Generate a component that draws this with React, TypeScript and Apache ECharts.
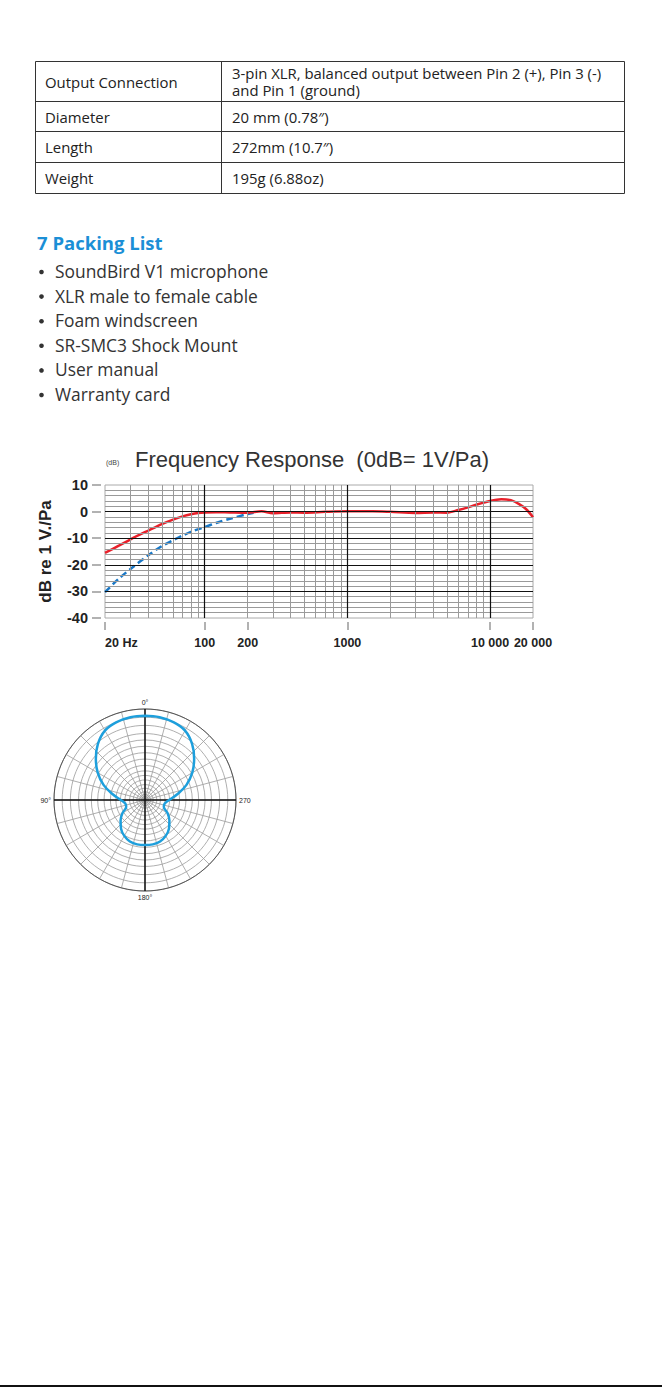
import React, { useEffect, useRef } from "react";
import * as echarts from "echarts";

// ---------- data ----------
const TABLE_LABELS = ["Output Connection", "Diameter", "Length", "Weight"];
const TABLE_VALUES = [
  ["3-pin XLR, balanced output between Pin 2 (+), Pin 3 (-)", "and Pin 1 (ground)"],
  ["20 mm (0.78″)"],
  ["272mm (10.7″)"],
  ["195g (6.88oz)"],
];

const PACKING_TITLE = "7 Packing List";
const PACKING_ITEMS = [
  "SoundBird V1 microphone",
  "XLR male to female cable",
  "Foam windscreen",
  "SR-SMC3 Shock Mount",
  "User manual",
  "Warranty card",
];

const FR_TITLE = "Frequency Response  (0dB= 1V/Pa)";
const FR_UNIT = "(dB)";
const FR_YNAME = "dB re 1 V./Pa";

const RED_FREQ = [20, 25, 30, 40, 50, 60, 70, 80, 90, 100, 120, 150, 200, 250, 300, 400, 500, 700, 1000, 1500, 2000, 3000, 4000, 5000, 6000, 7000, 8000, 10000, 12000, 14000, 16000, 18000, 20000];
const RED_DB = [-15.5, -12.8, -10.5, -7.2, -4.7, -3.0, -1.8, -1.0, -0.5, -0.3, -0.2, -0.3, -0.4, 0.1, -0.6, -0.3, -0.4, -0.1, 0.1, 0.1, -0.1, -0.5, -0.3, -0.4, 0.6, 1.6, 2.6, 4.0, 4.6, 4.3, 2.8, 0.8, -2.1];

const BLUE_FREQ = [20, 25, 30, 40, 50, 60, 70, 80, 100, 120, 150, 200, 220];
const BLUE_DB = [-30.3, -25.2, -21.7, -16.5, -13.0, -10.8, -9.0, -7.6, -5.8, -4.3, -2.7, -0.9, -0.4];

const X_TICKS = [20, 100, 200, 1000, 10000, 20000];
const X_TICK_LABELS = ["20 Hz", "100", "200", "1000", "10 000", "20 000"];
const V_MINOR = [30, 40, 50, 60, 70, 80, 90, 200, 300, 400, 500, 600, 700, 800, 900, 2000, 3000, 4000, 5000, 6000, 7000, 8000, 9000];
const V_MAJOR = [100, 1000, 10000];
const H_MINOR = [8, 6, 4, 2, -2, -4, -6, -8, -12, -14, -16, -18, -22, -24, -26, -28, -32, -34, -36, -38];
const H_MAJOR = [0, -10, -20, -30];

const POLAR_ANGLES = [0, 10, 20, 30, 40, 50, 60, 70, 80, 90, 100, 110, 120, 130, 140, 150, 160, 170, 180, 190, 200, 210, 220, 230, 240, 250, 260, 270, 280, 290, 300, 310, 320, 330, 340, 350, 360];
const POLAR_LEVEL = [92.5, 92.3, 91, 88, 80.5, 70.5, 60, 48.5, 36, 26.5, 22, 22, 28.5, 35, 41, 45.5, 48.5, 49.5, 49.5, 49.5, 48.5, 45.5, 41, 35, 28.5, 22, 22, 26.5, 36, 48.5, 60, 70.5, 80.5, 88, 91, 92.3, 92.5];
const RING_LEVELS = [2, 4, 6, 9, 13, 17, 22, 27, 32, 38, 45, 52, 59, 66, 73, 82, 91, 100];
const ANGLE_LABEL_VALUES = [0, 90, 180, 270];
const ANGLE_LABEL_TEXTS = ["0°", "90°", "180°", "270"];

// ---------- layout ----------
const TABLE_LEFT = 35, TABLE_RIGHT = 624, TABLE_COL = 221;
const TABLE_EDGES = [61, 101, 131, 162, 193];
const BODY_FONT = "Open Sans";
const TABLE_FONT_SIZE = 14.9;
const TABLE_LINE_GAP = 17.5;

function buildGraphics() {
  const g: any[] = [];
  // table
  g.push({ type: "rect", shape: { x: TABLE_LEFT + 0.5, y: TABLE_EDGES[0] + 0.5, width: TABLE_RIGHT - TABLE_LEFT, height: TABLE_EDGES[4] - TABLE_EDGES[0] }, style: { fill: "none", stroke: "#333", lineWidth: 1 } });
  g.push({ type: "line", shape: { x1: TABLE_COL + 0.5, y1: TABLE_EDGES[0], x2: TABLE_COL + 0.5, y2: TABLE_EDGES[4] }, style: { stroke: "#333", lineWidth: 1 } });
  for (let i = 1; i < TABLE_EDGES.length - 1; i++) {
    g.push({ type: "line", shape: { x1: TABLE_LEFT, y1: TABLE_EDGES[i] + 0.5, x2: TABLE_RIGHT, y2: TABLE_EDGES[i] + 0.5 }, style: { stroke: "#333", lineWidth: 1 } });
  }
  TABLE_LABELS.forEach((lab, i) => {
    const cy = (TABLE_EDGES[i] + TABLE_EDGES[i + 1]) / 2 + 0.5;
    g.push({ type: "text", x: 45, y: cy, style: { text: lab, fontFamily: BODY_FONT, fontSize: TABLE_FONT_SIZE, fill: "#222", verticalAlign: "middle", align: "left" } });
    const lines = TABLE_VALUES[i];
    lines.forEach((ln, j) => {
      const y = cy + (j - (lines.length - 1) / 2) * TABLE_LINE_GAP;
      g.push({ type: "text", x: 232, y, style: { text: ln, fontFamily: BODY_FONT, fontSize: TABLE_FONT_SIZE, fill: "#222", verticalAlign: "middle", align: "left" } });
    });
  });
  // packing list
  g.push({ type: "text", x: 37, y: 242, style: { text: PACKING_TITLE, fontFamily: BODY_FONT, fontWeight: "bold", fontSize: 18.5, fill: "#1b8fd6", verticalAlign: "middle" } });
  PACKING_ITEMS.forEach((t, i) => {
    const cy = 271 + i * 24.6;
    g.push({ type: "circle", shape: { cx: 41.5, cy: cy + 1, r: 2.3 }, style: { fill: "#333" } });
    g.push({ type: "text", x: 55, y: cy, style: { text: t, fontFamily: BODY_FONT, fontSize: 17.4, fill: "#333", verticalAlign: "middle" } });
  });
  // frequency chart titles
  g.push({ type: "text", x: 106, y: 462, style: { text: FR_UNIT, fontFamily: "Liberation Sans", fontSize: 7, fill: "#444", verticalAlign: "middle" } });
  g.push({ type: "text", x: 135, y: 459, style: { text: FR_TITLE, fontFamily: "Liberation Sans", fontSize: 22, fill: "#333", verticalAlign: "middle" } });
  // bottom rule
  g.push({ type: "rect", shape: { x: 0, y: 1385, width: 662, height: 2 }, style: { fill: "#111" } });
  return g;
}

function nearestTickLabel(v: number) {
  let best = 0, bd = Infinity;
  X_TICKS.forEach((t, i) => {
    const d = Math.abs(Math.log10(t) - v);
    if (d < bd) { bd = d; best = i; }
  });
  return X_TICK_LABELS[best];
}

function buildOption(): any {
  const gridLineData = [
    ...V_MINOR.map((v) => ({ xAxis: v, lineStyle: { color: "#9a9a9a", width: 1, type: "solid" } })),
    ...H_MINOR.map((v) => ({ yAxis: v, lineStyle: { color: "#9a9a9a", width: 1, type: "solid" } })),
    ...V_MAJOR.map((v) => ({ xAxis: v, lineStyle: { color: "#111", width: 1.2, type: "solid" } })),
    ...H_MAJOR.map((v) => ({ yAxis: v, lineStyle: { color: "#111", width: 1.2, type: "solid" } })),
  ];
  return {
    animation: false,
    backgroundColor: "#fff",
    graphic: buildGraphics(),
    grid: [{ left: 105, top: 485, width: 428, height: 133, show: true, borderColor: "#aaa", borderWidth: 1, backgroundColor: "transparent" }],
    xAxis: [
      { type: "log", logBase: 10, min: 20, max: 20000, gridIndex: 0, position: "top", show: false },
      {
        type: "value", gridIndex: 0, position: "bottom", min: Math.log10(20), max: Math.log10(20000), offset: 4,
        axisLine: { show: false }, splitLine: { show: false },
        axisTick: { show: true, customValues: X_TICKS.map((t) => Math.log10(t)), length: 8, lineStyle: { color: "#999", width: 1.5 } },
        axisLabel: { customValues: X_TICKS.map((t) => Math.log10(t)), alignMinLabel: "left", formatter: (v: number) => nearestTickLabel(v), fontFamily: "Liberation Sans", fontWeight: "bold", fontSize: 12.5, color: "#222", margin: 14 },
      },
    ],
    yAxis: [{
      type: "value", gridIndex: 0, min: -40, max: 10, interval: 10, offset: 4,
      axisLine: { show: false }, splitLine: { show: false },
      axisTick: { show: true, length: 9, lineStyle: { color: "#999", width: 1.5 } },
      axisLabel: { fontFamily: "Liberation Sans", fontWeight: "bold", fontSize: 14.5, color: "#222", margin: 13 },
      name: FR_YNAME, nameLocation: "middle", nameRotate: 90, nameGap: 47,
      nameTextStyle: { fontFamily: "Liberation Sans", fontWeight: "bold", fontSize: 17, color: "#222" },
    }],
    polar: { center: [145, 800], radius: 91 },
    angleAxis: {
      type: "value", min: 0, max: 360, interval: 15, startAngle: 90, clockwise: false,
      axisLine: { show: true, lineStyle: { color: "#555", width: 1 } },
      axisTick: { show: false },
      splitLine: { show: true, lineStyle: { color: "#9a9a9a", width: 0.8 } },
      axisLabel: {
        show: true, interval: 0, margin: 3, fontSize: 7, color: "#222", fontFamily: "Liberation Sans",
        formatter: (v: number) => { const i = ANGLE_LABEL_VALUES.indexOf(v); return i >= 0 ? ANGLE_LABEL_TEXTS[i] : ""; },
      },
    },
    radiusAxis: {
      type: "value", min: 0, max: 100,
      axisLine: { show: false }, axisLabel: { show: false },
      axisTick: { show: false, customValues: RING_LEVELS },
      splitLine: { show: true, lineStyle: { color: "#9a9a9a", width: 0.8 } },
    },
    series: [
      { type: "line", xAxisIndex: 0, yAxisIndex: 0, data: [], silent: true, z: 1,
        markLine: { silent: true, symbol: ["none", "none"], label: { show: false }, animation: false, data: gridLineData } },
      { type: "line", xAxisIndex: 0, yAxisIndex: 0, z: 3, showSymbol: false, smooth: 0.3,
        data: BLUE_FREQ.map((f, i) => [f, BLUE_DB[i]]), lineStyle: { color: "#1a78c6", width: 2.5, type: [7, 4] } },
      { type: "line", xAxisIndex: 0, yAxisIndex: 0, z: 4, showSymbol: false, smooth: 0.3,
        data: RED_FREQ.map((f, i) => [f, RED_DB[i]]), lineStyle: { color: "#e8202a", width: 2.5 } },
      { type: "line", coordinateSystem: "polar", showSymbol: false, silent: true, z: 2,
        data: [[100, 0], [100, 180]], lineStyle: { color: "#111", width: 1.5 } },
      { type: "line", coordinateSystem: "polar", showSymbol: false, silent: true, z: 2,
        data: [[100, 90], [100, 270]], lineStyle: { color: "#111", width: 1.5 } },
      { type: "line", coordinateSystem: "polar", showSymbol: false, smooth: 0.4, z: 3,
        data: POLAR_ANGLES.map((a, i) => [POLAR_LEVEL[i], a]), lineStyle: { color: "#1e9fdc", width: 2.5 } },
    ],
  };
}

export default function App() {
  const ref = useRef<HTMLDivElement>(null);
  useEffect(() => {
    const chart = echarts.init(ref.current!, null, { renderer: "svg" });
    chart.setOption(buildOption());
    return () => chart.dispose();
  }, []);
  return <div ref={ref} style={{ position: "absolute", left: 0, top: 0, width: 662, height: 1387, background: "#fff" }} />;
}
